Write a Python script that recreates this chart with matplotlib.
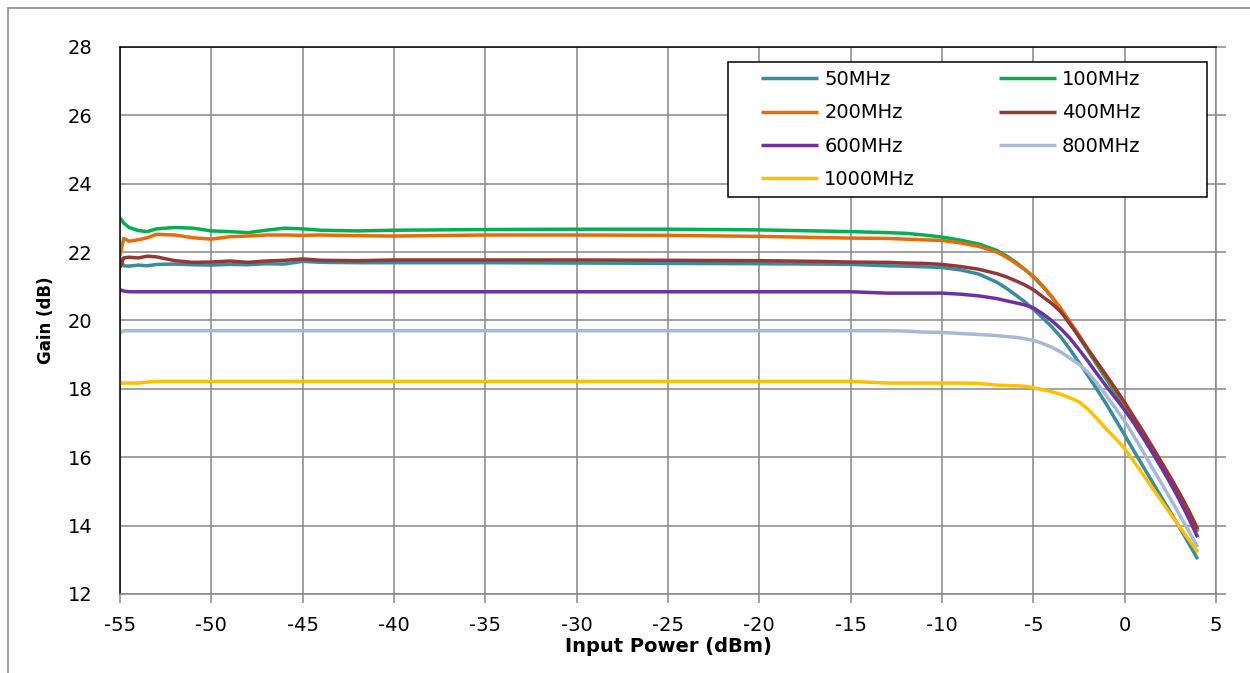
import matplotlib
matplotlib.use('Agg')
import matplotlib.pyplot as plt
from matplotlib.patches import Rectangle

plt.rcParams['axes.unicode_minus'] = False

# input power sweep (dBm)
pin = [-55, -54.8, -54.5, -54, -53.5, -53, -52, -51, -50, -49, -48, -47, -46, -45, -44,
       -42, -40, -35, -30, -25, -20, -17, -15, -13, -12, -11, -10, -9, -8, -7,
       -6.5, -6, -5.5, -5, -4.5, -4, -3.5, -3, -2.5, -2, -1.5, -1, -0.5, 0,
       0.5, 1, 1.5, 2, 2.5, 3, 3.5, 4]

# gain (dB) per frequency
g50 = [21.83, 21.6, 21.59, 21.62, 21.6, 21.64, 21.65, 21.63, 21.62, 21.64, 21.63, 21.66, 21.65, 21.73, 21.7,
       21.69, 21.69, 21.69, 21.68, 21.67, 21.66, 21.65, 21.64, 21.6, 21.59, 21.57, 21.55, 21.48, 21.36, 21.12,
       20.95, 20.76, 20.56, 20.33, 20.08, 19.82, 19.52, 19.16, 18.77, 18.38, 17.97, 17.55, 17.1, 16.65,
       16.19, 15.74, 15.29, 14.84, 14.4, 13.95, 13.49, 13.02]
g100 = [23.0, 22.85, 22.72, 22.63, 22.6, 22.68, 22.72, 22.7, 22.62, 22.6, 22.57, 22.64, 22.7, 22.68, 22.64,
        22.62, 22.64, 22.66, 22.67, 22.67, 22.65, 22.62, 22.6, 22.57, 22.55, 22.5, 22.44, 22.35, 22.24, 22.05,
        21.9, 21.72, 21.51, 21.28, 21.0, 20.7, 20.32, 19.93, 19.52, 19.1, 18.69, 18.28, 17.88, 17.47,
        17.05, 16.63, 16.2, 15.76, 15.31, 14.84, 14.34, 13.82]
g200 = [21.9, 22.4, 22.32, 22.36, 22.42, 22.52, 22.5, 22.42, 22.38, 22.45, 22.47, 22.5, 22.5, 22.49, 22.5,
        22.48, 22.47, 22.5, 22.5, 22.49, 22.46, 22.43, 22.41, 22.4, 22.38, 22.36, 22.34, 22.27, 22.17, 22.0,
        21.86, 21.69, 21.5, 21.29, 21.02, 20.7, 20.35, 19.97, 19.57, 19.15, 18.75, 18.36, 17.97, 17.57,
        17.15, 16.73, 16.29, 15.84, 15.39, 14.92, 14.42, 13.86]
g400 = [21.55, 21.83, 21.85, 21.83, 21.88, 21.86, 21.75, 21.7, 21.71, 21.74, 21.7, 21.74, 21.76, 21.8, 21.76,
        21.75, 21.77, 21.77, 21.77, 21.76, 21.75, 21.73, 21.71, 21.7, 21.68, 21.67, 21.64, 21.58, 21.5, 21.37,
        21.28, 21.17, 21.05, 20.9, 20.7, 20.5, 20.26, 19.9, 19.53, 19.15, 18.77, 18.39, 18.0, 17.6,
        17.18, 16.76, 16.32, 15.87, 15.42, 14.95, 14.45, 13.9]
g600 = [20.9, 20.86, 20.84, 20.84, 20.84, 20.84, 20.84, 20.84, 20.84, 20.84, 20.84, 20.84, 20.84, 20.84, 20.84,
        20.84, 20.84, 20.84, 20.84, 20.84, 20.84, 20.84, 20.84, 20.8, 20.8, 20.8, 20.8, 20.77, 20.72, 20.64,
        20.58, 20.52, 20.46, 20.37, 20.2, 20.0, 19.76, 19.48, 19.15, 18.8, 18.43, 18.07, 17.73, 17.38,
        17.0, 16.58, 16.15, 15.7, 15.24, 14.75, 14.22, 13.66]
g800 = [19.63, 19.7, 19.7, 19.7, 19.7, 19.7, 19.7, 19.7, 19.7, 19.7, 19.7, 19.7, 19.7, 19.7, 19.7,
        19.7, 19.7, 19.7, 19.7, 19.7, 19.7, 19.7, 19.7, 19.7, 19.69, 19.66, 19.65, 19.62, 19.59, 19.56,
        19.53, 19.51, 19.47, 19.42, 19.33, 19.22, 19.08, 18.9, 18.72, 18.48, 18.15, 17.8, 17.43, 17.05,
        16.62, 16.17, 15.7, 15.25, 14.79, 14.32, 13.85, 13.37]
g1000 = [18.17, 18.17, 18.17, 18.17, 18.2, 18.22, 18.22, 18.22, 18.22, 18.22, 18.22, 18.22, 18.22, 18.22, 18.22,
         18.22, 18.22, 18.22, 18.22, 18.22, 18.22, 18.22, 18.22, 18.17, 18.17, 18.17, 18.17, 18.17, 18.16, 18.11,
         18.1, 18.09, 18.08, 18.03, 17.98, 17.92, 17.84, 17.74, 17.62, 17.4, 17.12, 16.82, 16.55, 16.25,
         15.88, 15.5, 15.12, 14.73, 14.35, 13.97, 13.6, 13.22]

labels = ['50MHz', '100MHz', '200MHz', '400MHz', '600MHz', '800MHz', '1000MHz']
colors = ['#3A8BA0', '#00B050', '#E46C0A', '#953735', '#7030A0', '#A6B9D9', '#FFC000']
series = [g50, g100, g200, g400, g600, g800, g1000]

fig = plt.figure(figsize=(12.5, 6.73), dpi=100)
ax = fig.add_axes([0.096, 0.1174, 0.8768, 0.8128])

lines = []
for g, lab, c in zip(series, labels, colors):
    ln, = ax.plot(pin, g, color=c, lw=2.5, label=lab, solid_capstyle='butt')
    lines.append(ln)

ax.set_xlim(-55, 5)
ax.set_ylim(12, 28)
ax.set_xticks(range(-55, 6, 5))
ax.set_yticks(range(12, 29, 2))

grid_c = '#878787'
ax.grid(True, color=grid_c, lw=1.1)
ax.set_axisbelow(True)
ax.spines['left'].set_color('black')
ax.spines['top'].set_color('black')
ax.spines['bottom'].set_color(grid_c)
ax.spines['right'].set_color(grid_c)
for s in ax.spines.values():
    s.set_linewidth(1.1)

ax.tick_params(axis='x', direction='out', length=6.5, width=1.1, color=grid_c,
               labelsize=14, pad=9)
ax.tick_params(axis='y', direction='out', length=7, width=1.1, color=grid_c,
               left=False, right=True, labelleft=True, labelright=False,
               labelsize=14, pad=13)

ax.set_xlabel('Input Power (dBm)', fontsize=14, fontweight='bold', labelpad=2)
ax.set_ylabel('Gain (dB)', fontsize=12, fontweight='bold', labelpad=9)

# legend box drawn separately so the padding matches the original
ax.add_patch(Rectangle((0.5547, 0.7258), 0.4371, 0.2468, transform=ax.transAxes,
                       facecolor='white', edgecolor='black', lw=1.1, zorder=4))

# row-wise legend order in 2 columns
order = [0, 2, 4, 6, 1, 3, 5]
leg = ax.legend([lines[i] for i in order], [labels[i] for i in order], ncol=2,
                loc='upper left', bbox_to_anchor=(0.5849, 0.958),
                borderaxespad=0, borderpad=0, fontsize=14, frameon=False,
                handlelength=2.94, handletextpad=0.31, labelspacing=0.74,
                columnspacing=4.3)
leg.set_zorder(5)

# outer chart border
fig.add_artist(Rectangle((8 / 1250, -0.1), 1.2, 1 - 8 / 673 + 0.1,
                         transform=fig.transFigure, fill=False,
                         ec='#8c8c8c', lw=1.2))

fig.savefig('out.png', dpi=100)
